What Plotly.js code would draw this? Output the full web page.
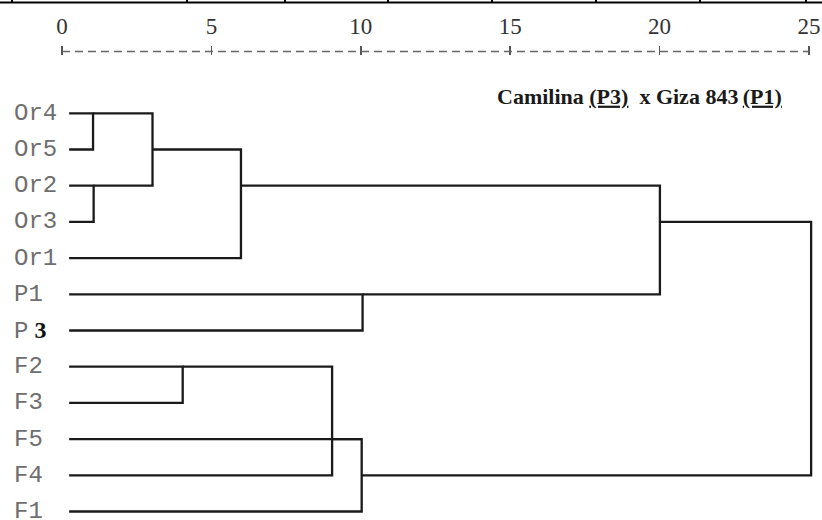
<!DOCTYPE html>
<html><head><meta charset="utf-8">
<script src="https://cdn.plot.ly/plotly-3.0.1.min.js"></script>
<style>html,body{margin:0;padding:0;background:#fff}</style>
</head><body><div id="chart" style="width:822px;height:520px"></div>
<script>
// ---- data ----
const leafNames = ['Or4','Or5','Or2','Or3','Or1','P1','P3','F2','F3','F5','F4','F1'];
const leafLabels = ['Or4','Or5','Or2','Or3','Or1','P1',
  'P<span style="font-family:\'Liberation Serif\';font-weight:bold;color:#111;font-size:24px"> 3</span>',
  'F2','F3','F5','F4','F1'];
const leafHeight = 0.24;
// merges: children are node indices (0..11 leaves, 12.. merges in order)
const mergeChildren = [[0,1],[2,3],[12,13],[14,4],[5,6],[15,16],[7,8],[18,10],[19,9,11],[17,20]];
const mergeHeights  = [1.04, 1.06, 3.03, 5.99, 10.06, 20.01, 4.04, 9.04, 10.03, 25.07];
const mergeRows     = [0, 2, 1, 2, 5, 3, 7, 9, 10, 6];
const tickVals = [0, 5, 10, 15, 20, 25];
const tickText = ['0', '5', '10', '15', '20', '25'];
const titleText = '<b>Camilina <u>(P3)</u>\u00A0\u00A0x Giza 843\u2009<u>(P1)</u></b>';

// ---- build dendrogram paths ----
const nLeaf = leafNames.length;
const nodeH = [], nodeRow = [];
for (let i = 0; i < nLeaf; i++) { nodeH.push(leafHeight); nodeRow.push(i); }
mergeHeights.forEach((h, k) => { nodeH.push(h); nodeRow.push(mergeRows[k]); });
const xs = [], ys = [];
mergeChildren.forEach((ch, k) => {
  const H = mergeHeights[k];
  const sorted = ch.slice().sort((a, b) => nodeRow[a] - nodeRow[b]);
  const first = sorted[0], last = sorted[sorted.length - 1];
  xs.push(nodeH[first], H, H, nodeH[last], null);
  ys.push(nodeRow[first], nodeRow[first], nodeRow[last], nodeRow[last], null);
  sorted.slice(1, -1).forEach(c => {
    xs.push(nodeH[c], H, null); ys.push(nodeRow[c], nodeRow[c], null);
  });
});

const W = 822, Hh = 520, ml = 53, mr = 7, mt = 56, mb = 0;
const pw = W - ml - mr, ph = Hh - mt - mb;

const traces = [{
  type: 'scatter', mode: 'lines', x: xs, y: ys,
  line: {color: '#1a1a1a', width: 2.3}, hoverinfo: 'skip', connectgaps: false
}];

const annotations = leafNames.map((n, i) => ({
  xref: 'paper', yref: 'y', x: (12 - ml) / pw, y: i, xanchor: 'left', yanchor: 'middle',
  text: leafLabels[i], showarrow: false,
  font: {family: 'Liberation Mono', size: 24, color: '#6e6e6e'}
}));

const stubs = [12, 187, 285, 388, 492, 596, 700, 806];
const shapes = [
  {type: 'line', xref: 'x', yref: 'paper', x0: tickVals[0], x1: tickVals[tickVals.length - 1],
   y0: 1 + 4.5 / ph, y1: 1 + 4.5 / ph, line: {color: '#666', width: 1.6, dash: '8px,5px'}},
  {type: 'line', xref: 'paper', yref: 'paper', x0: -ml / pw, x1: (W - ml) / pw,
   y0: 1 + (mt - 2.5) / ph, y1: 1 + (mt - 2.5) / ph, line: {color: '#000', width: 2}}
].concat(stubs.map(s => ({
  type: 'line', xref: 'paper', yref: 'paper', x0: (s - ml) / pw, x1: (s - ml) / pw,
  y0: 1 + (mt - 2.5) / ph, y1: 1 + mt / ph, line: {color: '#000', width: 2}
})));

const layout = {
  width: W, height: Hh,
  margin: {l: ml, r: mr, t: mt, b: mb, pad: 0},
  paper_bgcolor: '#fff', plot_bgcolor: '#fff',
  showlegend: false,
  title: {text: titleText, xref: 'container', yref: 'container', x: 497 / W, xanchor: 'left',
          y: 1 - 96 / Hh, yanchor: 'middle',
          font: {family: 'Liberation Serif', size: 22, color: '#1a1a1a'}},
  xaxis: {range: [-0.3, 25.2], side: 'top', tickmode: 'array', tickvals: tickVals, ticktext: tickText,
          ticks: 'outside', ticklen: 9, tickwidth: 1.6, tickcolor: '#555',
          showgrid: false, zeroline: false, showline: false, ticklabelstandoff: 3,
          tickfont: {family: 'Liberation Serif', size: 23, color: '#333'}, fixedrange: true},
  yaxis: {range: [11.235, -1.583], visible: false, fixedrange: true},
  annotations: annotations, shapes: shapes
};

Plotly.newPlot('chart', traces, layout, {displayModeBar: false, staticPlot: true});
</script></body></html>
